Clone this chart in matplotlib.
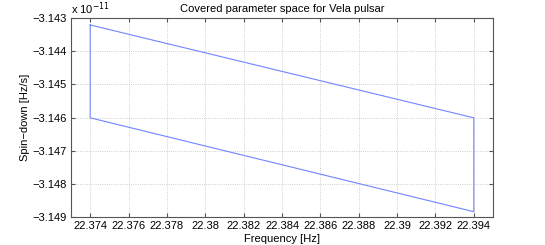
import matplotlib
matplotlib.use("Agg")
from matplotlib import pyplot as plt
from matplotlib.ticker import FuncFormatter, FixedLocator

# corners of the covered region (closed outline)
freq = [22.374, 22.394, 22.394, 22.374, 22.374]
spindown = [-3.14321e-11, -3.14601e-11, -3.14884e-11, -3.14601e-11, -3.14321e-11]

freq_ticks = [22.374, 22.376, 22.378, 22.380, 22.382, 22.384, 22.386, 22.388, 22.390, 22.392, 22.394]
spindown_ticks = [-3.149e-11, -3.148e-11, -3.147e-11, -3.146e-11, -3.145e-11, -3.144e-11, -3.143e-11]

plt.rcParams['font.family'] = ['Liberation Sans', 'DejaVu Sans']
plt.rcParams['font.size'] = 8

fig = plt.figure(figsize=(5.45, 2.45), dpi=100)
ax = fig.add_axes([71 / 545, 28 / 245, 422 / 545, 199 / 245])

ax.plot(freq, spindown, color='#7285ff', lw=0.8)

ax.set_xlim(22.373, 22.395)
ax.set_ylim(-3.149e-11, -3.143e-11)
ax.xaxis.set_major_locator(FixedLocator(freq_ticks))
ax.yaxis.set_major_locator(FixedLocator(spindown_ticks))
ax.xaxis.set_major_formatter(FuncFormatter(lambda v, p: '%g' % round(v, 4)))
ax.yaxis.set_major_formatter(FuncFormatter(lambda v, p: ('%.3f' % (v / 1e-11)).replace('-', '\u2212')))

ax.grid(True, linestyle=':', color='#c0c0c0', lw=0.6)
ax.tick_params(direction='in', top=True, right=True, length=3, color='#555555', labelsize=8, pad=3)
for s in ax.spines.values():
    s.set_color('#555555')
    s.set_linewidth(0.8)

ax.set_xlabel('Frequency [Hz]', fontsize=8, labelpad=2)
ax.set_ylabel('Spin\u2212down [Hz/s]', fontsize=8, labelpad=2)
ax.set_title('Covered parameter space for Vela pulsar', fontsize=8, pad=4)
ax.text(0, 1.005, 'x 10$^{-11}$', transform=ax.transAxes, fontsize=8, va='bottom', ha='left')

plt.savefig('out.png', dpi=100)
plt.close()
